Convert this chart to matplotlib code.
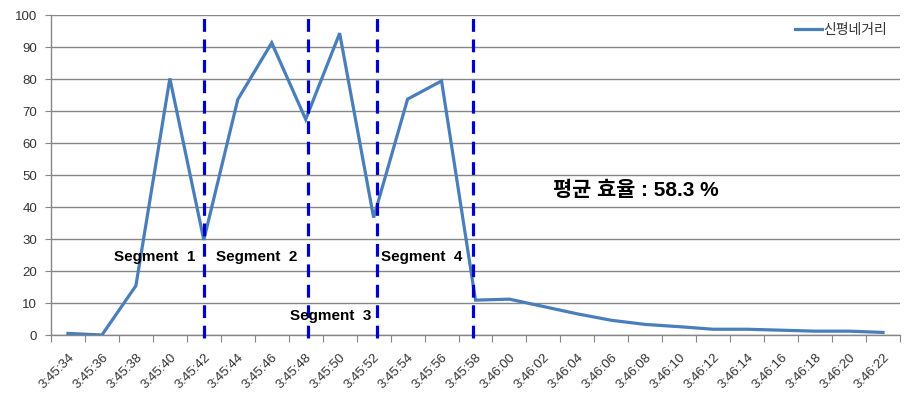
import matplotlib
matplotlib.use("Agg")
import matplotlib.pyplot as plt
import numpy as np

times = ["3:45:34", "3:45:36", "3:45:38", "3:45:40", "3:45:42", "3:45:44", "3:45:46",
         "3:45:48", "3:45:50", "3:45:52", "3:45:54", "3:45:56", "3:45:58", "3:46:00",
         "3:46:02", "3:46:04", "3:46:06", "3:46:08", "3:46:10", "3:46:12", "3:46:14",
         "3:46:16", "3:46:18", "3:46:20", "3:46:22"]
efficiency = [0.5, 0.0, 15.4, 80.2, 29.7, 73.6, 91.3, 67.4, 94.3, 36.7, 73.7, 79.4,
              10.9, 11.2, 8.9, 6.6, 4.6, 3.3, 2.6, 1.8, 1.8, 1.5, 1.2, 1.2, 0.8]
series_name = "신평네거리"
segment_bounds = [4.0, 7.08, 9.09, 11.94]
segment_labels = ["Segment  1", "Segment  2", "Segment  3", "Segment  4"]
segment_label_pos = [(2.56, 24.5), (5.56, 24.4), (7.74, 5.8), (10.42, 24.4)]
summary_text = "평균 효율 : 58.3 %"
summary_pos = (16.73, 45.2)
yticks = list(range(0, 101, 10))

plt.rcParams['font.family'] = ['Liberation Sans', 'Noto Sans CJK KR', 'DejaVu Sans']

fig = plt.figure(figsize=(9.10, 4.07), dpi=100)
ax = fig.add_axes([51/910, (407-335)/407, (900-51)/910, (335-15)/407])

x = np.arange(len(times))
ax.plot(x, efficiency, color="#4A7EBB", lw=2.3, solid_joinstyle='miter', label=series_name, zorder=3)

ax.set_xlim(-0.5, len(times) - 0.5)
ax.set_ylim(0, 100)
ax.set_yticks(yticks)
ax.yaxis.grid(True, color="#868686", lw=1)
ax.set_axisbelow(True)
for s in ["top", "right"]:
    ax.spines[s].set_visible(False)
for s in ["left", "bottom"]:
    ax.spines[s].set_color("#868686")
    ax.spines[s].set_linewidth(1)

ax.set_xticks(np.arange(-0.5, len(times)), minor=False)
ax.set_xticklabels([])
ax.set_xticks(x, minor=True)
ax.set_xticklabels(times, minor=True, rotation=45, ha='right', rotation_mode='anchor',
                   fontsize=9.5, color="#333333")
ax.tick_params(axis='x', which='major', length=5, color="#868686", direction='out')
ax.tick_params(axis='x', which='minor', length=0, pad=12)
ax.tick_params(axis='y', length=4, color="#868686", labelsize=9.5, labelcolor="#333333", pad=6)

for b in segment_bounds:
    ax.plot([b, b], [-1, 100], color="#0000CC", lw=2.3, ls=(0, (4, 2.4)), clip_on=False, zorder=4)

for lab, (px, py) in zip(segment_labels, segment_label_pos):
    ax.text(px, py, lab, ha='center', va='center', fontsize=11, fontweight='bold', color='black', zorder=5)

ax.text(summary_pos[0], summary_pos[1], summary_text, ha='center', va='center', fontsize=15,
        fontweight='bold', color='black', zorder=5)

leg = ax.legend(loc='upper right', bbox_to_anchor=(0.995, 1.0), frameon=False, fontsize=10,
                handlelength=1.9, handletextpad=0.15, borderaxespad=0.2)
for t in leg.get_texts():
    t.set_color("#333333")

fig.savefig("out.png", dpi=100)
